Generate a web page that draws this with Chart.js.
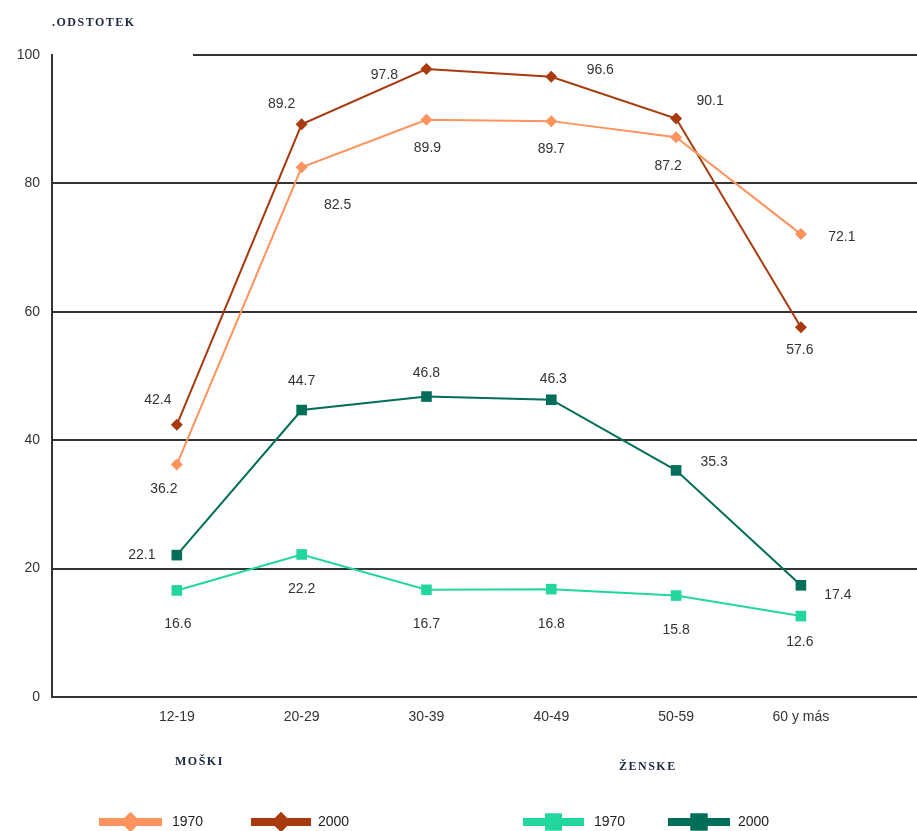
<!DOCTYPE html>
<html>
<head>
<meta charset="utf-8">
<script src="https://cdn.jsdelivr.net/npm/chart.js@4"></script>
<style>
  html, body { margin: 0; padding: 0; background: #fff; }
  #wrap { position: relative; width: 917px; height: 831px; }
</style>
</head>
<body>
<div id="wrap"><canvas id="employment-chart" width="917" height="831"></canvas></div>
<script>
// Data

const ageGroups = ["12-19", "20-29", "30-39", "40-49", "50-59", "60 y más"];
const men1970 = [36.2, 82.5, 89.9, 89.7, 87.2, 72.1];
const men2000 = [42.4, 89.2, 97.8, 96.6, 90.1, 57.6];
const women1970 = [16.6, 22.2, 16.7, 16.8, 15.8, 12.6];
const women2000 = [22.1, 44.7, 46.8, 46.3, 35.3, 17.4];
const yTicks = [0, 20, 40, 60, 80, 100];

// label offsets (pixels from the point), one list per series
const men1970Offsets = [[-13, 25], [36, 38], [1, 28], [0, 28], [-8, 29], [41, 3]];
const men2000Offsets = [[-19, -25], [-20, -20], [-42, 6], [49, -7], [34, -17], [-1, 23]];
const women1970Offsets = [[1, 34], [0, 35], [0, 34], [0, 35], [0, 35], [-1, 26]];
const women2000Offsets = [[-35, 0], [0, -29], [0, -23], [2, -21], [38, -8], [37, 10]];

const toPoints = arr => arr.map((v, i) => ({ x: i + 1, y: v }));

const orange = '#FF935E';
const brown = '#A83A0E';
const mint = '#22D6A0';
const darkGreen = '#006E58';

const datasets = [
    { label: '1970', data: toPoints(men1970), borderColor: orange, backgroundColor: orange, pointStyle: 'rectRot', pointRadius: 6, offsets: men1970Offsets },
    { label: '2000', data: toPoints(men2000), borderColor: brown, backgroundColor: brown, pointStyle: 'rectRot', pointRadius: 6, offsets: men2000Offsets },
    { label: '1970', data: toPoints(women1970), borderColor: mint, backgroundColor: mint, pointStyle: 'rect', pointRadius: 7.5, offsets: women1970Offsets },
    { label: '2000', data: toPoints(women2000), borderColor: darkGreen, backgroundColor: darkGreen, pointStyle: 'rect', pointRadius: 7.5, offsets: women2000Offsets }
];
datasets.forEach(d => { d.borderWidth = 2; d.pointBorderWidth = 0; d.tension = 0; });

// Extras: title, partial top line, value labels, group headings, legend

const extras = {
    id: 'extras',
    afterDatasetsDraw(chart) {
        const ctx = chart.ctx;
        const y = chart.scales.y;
        const area = chart.chartArea;

        ctx.save();
        // top gridline only runs from the right of the title
        ctx.strokeStyle = '#333';
        ctx.lineWidth = 2;
        ctx.beginPath();
        ctx.moveTo(193, y.getPixelForValue(100));
        ctx.lineTo(area.right, y.getPixelForValue(100));
        ctx.stroke();

        // value labels
        ctx.font = '14px "Liberation Sans", Arial, sans-serif';
        ctx.fillStyle = '#333';
        ctx.textAlign = 'center';
        ctx.textBaseline = 'middle';
        chart.data.datasets.forEach((ds, di) => {
            chart.getDatasetMeta(di).data.forEach((pt, i) => {
                const off = ds.offsets[i];
                ctx.fillText(ds.data[i].y.toFixed(1), pt.x + off[0], pt.y + off[1]);
            });
        });

        // title and headings
        ctx.font = 'bold 12px "Liberation Serif", "DejaVu Serif", serif';
        ctx.letterSpacing = '1.5px';
        ctx.fillStyle = '#1c2840';
        ctx.textAlign = 'left';
        ctx.fillText('.ODSTOTEK', 52, 23);
        ctx.fillText('MOŠKI', 175, 762);
        ctx.fillText('ŽENSKE', 619, 767);
        ctx.letterSpacing = '0px';

        // legend
        const legendItems = [
            { ds: 0, x1: 99, x2: 162, tx: 172 },
            { ds: 1, x1: 251, x2: 311, tx: 318 },
            { ds: 2, x1: 523, x2: 584, tx: 594 },
            { ds: 3, x1: 668, x2: 730, tx: 738 }
        ];
        const ly = 822;
        ctx.font = '14px "Liberation Sans", Arial, sans-serif';
        legendItems.forEach(item => {
            const ds = chart.data.datasets[item.ds];
            ctx.strokeStyle = ds.borderColor;
            ctx.lineWidth = 8;
            ctx.beginPath();
            ctx.moveTo(item.x1, ly);
            ctx.lineTo(item.x2, ly);
            ctx.stroke();
            ctx.fillStyle = ds.borderColor;
            Chart.helpers.drawPoint(ctx, { pointStyle: ds.pointStyle, radius: ds.pointStyle === 'rect' ? 12 : 10, rotation: 0, borderWidth: 0 }, (item.x1 + item.x2) / 2, ly);
            ctx.fill();
            ctx.fillStyle = '#222';
            ctx.fillText(ds.label, item.tx, ly);
        });
        ctx.restore();
    }
};

// Chart

const chartCanvas = document.getElementById("employment-chart");

let employmentChart = new Chart(chartCanvas, {
    type: 'line',
    data: { datasets: datasets },
    options: {
        responsive: false,
        animation: false,
        layout: { autoPadding: false, padding: { top: 55, right: 0, left: 0, bottom: 0 } },
        scales: {
            x: {
                type: 'linear',
                min: 0,
                max: 6.93,
                afterFit: scale => {
                    scale.height = 134;
                    scale.paddingRight = 0;
                },
                afterBuildTicks: scale => {
                    scale.ticks = ageGroups.map((g, i) => ({ value: i + 1 }));
                },
                ticks: {
                    autoSkip: false,
                    maxRotation: 0,
                    padding: 12,
                    color: '#333',
                    font: { family: '"Liberation Sans", Arial, sans-serif', size: 14 },
                    callback: v => ageGroups[v - 1] || ''
                },
                grid: { display: false, drawTicks: false },
                border: { display: true, color: '#333', width: 2 }
            },
            y: {
                min: 0,
                max: 100,
                afterFit: scale => { scale.width = 52; },
                afterBuildTicks: scale => {
                    scale.ticks = yTicks.map(v => ({ value: v }));
                },
                ticks: {
                    padding: 12,
                    color: '#333',
                    font: { family: '"Liberation Sans", Arial, sans-serif', size: 14 }
                },
                grid: {
                    drawTicks: false,
                    lineWidth: 2,
                    color: ctx => (ctx.tick && ctx.tick.value === 100) ? 'rgba(0,0,0,0)' : '#333'
                },
                border: { display: true, color: '#333', width: 2 }
            }
        },
        plugins: {
            legend: { display: false },
            tooltip: { enabled: false }
        }
    },
    plugins: [extras]
});
</script>
</body>
</html>
